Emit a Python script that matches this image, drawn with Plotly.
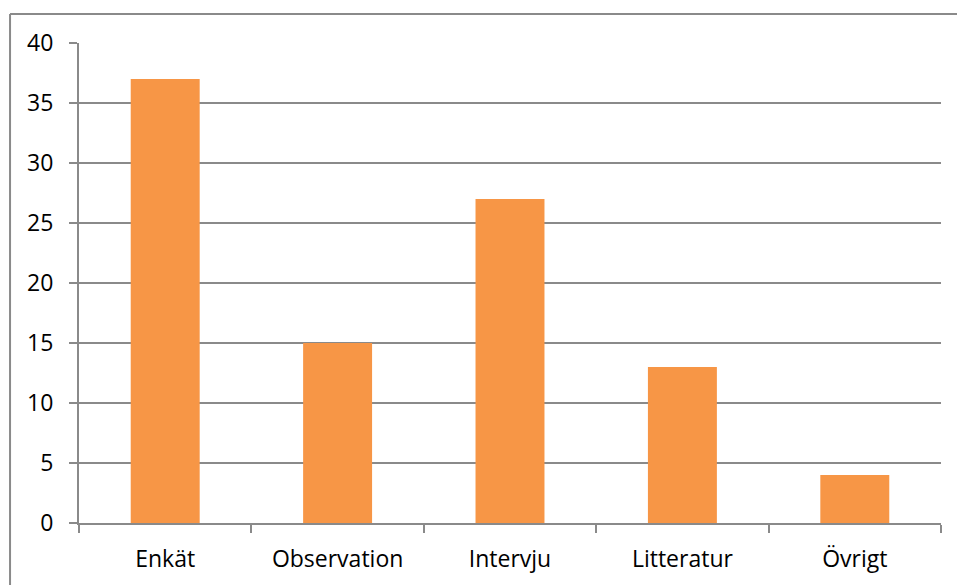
import plotly.graph_objects as go

categories = ["Enkät", "Observation", "Intervju", "Litteratur", "Övrigt"]
values = [37, 15, 27, 13, 4]
y_ticks = [0, 5, 10, 15, 20, 25, 30, 35, 40]

bar_color = "#F79646"
line_color = "#8A8A8A"
font = dict(family="Open Sans", size=23, color="#000000")

fig = go.Figure(
    go.Bar(
        x=categories,
        y=values,
        marker=dict(color=bar_color, line=dict(width=0)),
        width=0.4,
    )
)

fig.update_layout(
    width=957,
    height=585,
    margin=dict(l=79, r=16, t=43, b=62),
    paper_bgcolor="white",
    plot_bgcolor="white",
    font=font,
    showlegend=False,
    bargap=0.6,
    shapes=[
        # chart-area frame: top and left edges
        dict(type="line", xref="paper", yref="paper",
             x0=-0.0800, x1=1.2, y0=1.0604, y1=1.0604,
             line=dict(color=line_color, width=2)),
        dict(type="line", xref="paper", yref="paper",
             x0=-0.0800, x1=-0.0800, y0=1.0604, y1=-0.3,
             line=dict(color=line_color, width=2)),
    ],
)

fig.update_xaxes(
    type="category",
    showline=True,
    linecolor=line_color,
    linewidth=2,
    showgrid=False,
    ticks="outside",
    tickson="boundaries",
    ticklen=8,
    tickwidth=2,
    tickcolor=line_color,
    tickfont=font,
    ticklabelstandoff=14,
)

fig.update_yaxes(
    range=[0, 40],
    tickvals=y_ticks,
    showline=True,
    linecolor=line_color,
    linewidth=2,
    showgrid=True,
    gridcolor=line_color,
    gridwidth=1.5,
    zeroline=False,
    ticks="outside",
    ticklen=8,
    tickwidth=2,
    tickcolor=line_color,
    tickfont=font,
    ticklabelstandoff=11,
)

fig.write_html("out.html")
